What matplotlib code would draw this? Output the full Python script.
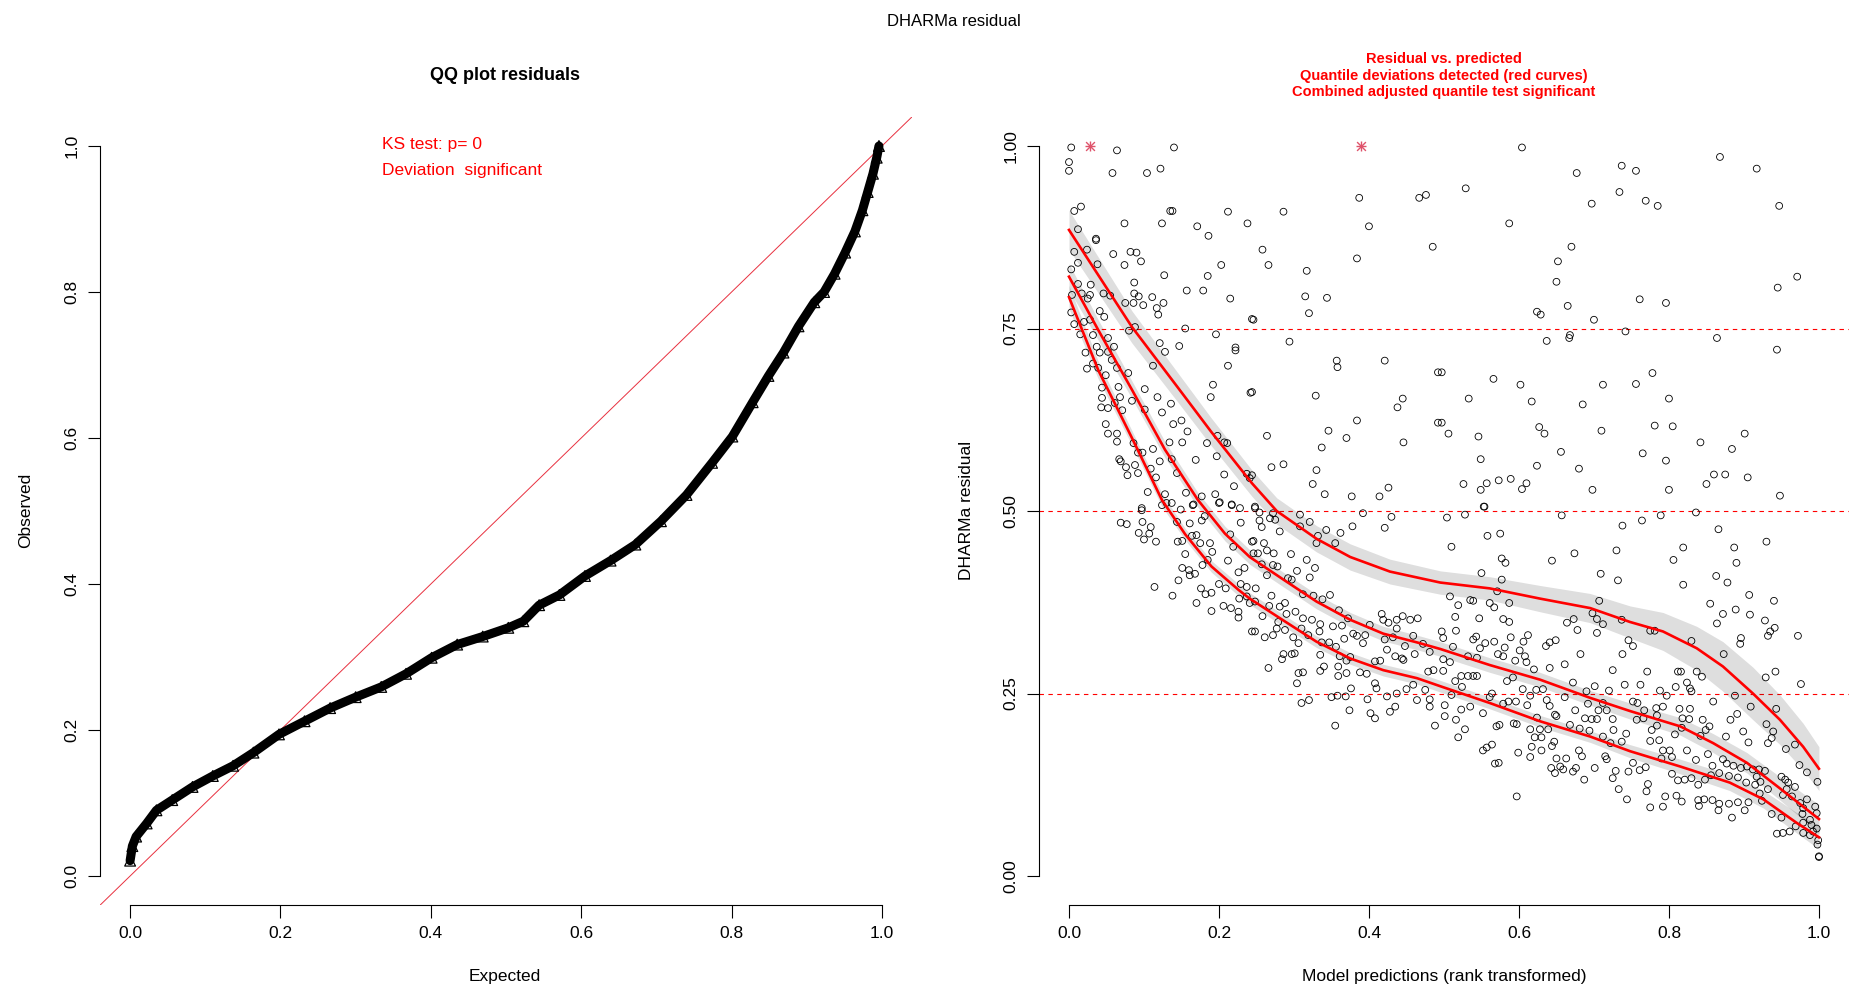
import matplotlib.pyplot as plt
import numpy as np

plt.rcParams['font.family'] = ['Liberation Sans', 'DejaVu Sans']

# QQ plot: expected vs observed quantiles
qq_expected = [0.0, 0.003, 0.008, 0.022, 0.035, 0.056, 0.083, 0.11, 0.137, 0.164, 0.198,
               0.232, 0.266, 0.30, 0.334, 0.367, 0.401, 0.435, 0.469, 0.503, 0.523, 0.544,
               0.571, 0.605, 0.639, 0.672, 0.706, 0.740, 0.774, 0.801, 0.828, 0.849, 0.869,
               0.889, 0.910, 0.923, 0.937, 0.951, 0.964, 0.974, 0.981, 0.988, 0.993, 0.996]
qq_observed = [0.021, 0.041, 0.054, 0.072, 0.090, 0.104, 0.122, 0.137, 0.151, 0.169, 0.194,
               0.212, 0.230, 0.245, 0.259, 0.277, 0.299, 0.317, 0.328, 0.340, 0.349, 0.371,
               0.385, 0.411, 0.432, 0.454, 0.486, 0.522, 0.566, 0.602, 0.649, 0.685, 0.717,
               0.753, 0.786, 0.800, 0.825, 0.854, 0.883, 0.912, 0.937, 0.962, 0.984, 1.0]

# residual vs predicted (rank transformed), (x, y) pairs
resid_points = [
    (0.003,0.998),(0.064,0.994),(0.140,0.998),(0.0,0.978),(0.0,0.966),(0.058,0.963),(0.104,0.963),
    (0.122,0.969),(0.007,0.911),(0.016,0.917),(0.135,0.911),(0.138,0.911),(0.212,0.910),(0.238,0.894),
    (0.074,0.894),(0.124,0.894),(0.171,0.890),(0.186,0.877),(0.012,0.886),(0.036,0.873),(0.036,0.871),
    (0.007,0.855),(0.024,0.858),(0.059,0.852),(0.082,0.855),(0.090,0.854),(0.096,0.842),(0.074,0.837),
    (0.038,0.838),(0.003,0.831),(0.012,0.840),(0.203,0.837),(0.127,0.823),(0.185,0.822),(0.087,0.813),
    (0.012,0.811),(0.029,0.810),(0.157,0.802),(0.179,0.802),(0.004,0.796),(0.017,0.798),(0.028,0.796),
    (0.046,0.798),(0.055,0.795),(0.087,0.798),(0.093,0.794),(0.111,0.793),(0.215,0.791),(0.025,0.791),
    (0.075,0.785),(0.086,0.785),(0.099,0.782),(0.126,0.785),(0.117,0.778),(0.041,0.774),(0.003,0.772),
    (0.047,0.766),(0.119,0.769),(0.244,0.763),(0.007,0.756),(0.020,0.759),(0.028,0.762),(0.080,0.747),
    (0.088,0.752),(0.155,0.750),(0.196,0.742),(0.015,0.742),(0.032,0.741),(0.052,0.737),(0.121,0.730),
    (0.128,0.718),(0.060,0.725),(0.147,0.726),(0.222,0.724),(0.222,0.720),(0.037,0.725),(0.022,0.717),
    (0.041,0.717),(0.052,0.718),(0.032,0.702),(0.057,0.707),(0.064,0.696),(0.024,0.695),(0.039,0.696),
    (0.049,0.686),(0.079,0.689),(0.112,0.699),(0.212,0.699),(0.044,0.669),(0.101,0.667),(0.066,0.670),
    (0.118,0.656),(0.068,0.656),(0.044,0.655),(0.084,0.651),(0.192,0.673),(0.189,0.656),(0.242,0.662),
    (0.043,0.642),(0.052,0.641),(0.061,0.648),(0.101,0.639),(0.071,0.638),(0.124,0.635),(0.136,0.647),
    (0.049,0.619),(0.139,0.619),(0.150,0.624),(0.158,0.609),(0.052,0.606),(0.064,0.606),(0.064,0.595),
    (0.086,0.593),(0.134,0.594),(0.151,0.594),(0.184,0.593),(0.198,0.603),(0.207,0.594),(0.211,0.593),
    (0.112,0.585),(0.092,0.580),(0.098,0.580),(0.197,0.575),(0.169,0.570),(0.067,0.571),(0.069,0.568),
    (0.121,0.568),(0.137,0.571),(0.076,0.560),(0.088,0.563),(0.078,0.549),(0.092,0.552),(0.109,0.558),
    (0.116,0.546),(0.144,0.552),(0.207,0.550),(0.220,0.534),(0.237,0.551),(0.241,0.545),(0.195,0.523),
    (0.177,0.520),(0.156,0.525),(0.128,0.523),(0.105,0.526),(0.097,0.504),(0.137,0.511),(0.166,0.509),
    (0.201,0.512),(0.217,0.509),
    (0.097,0.501),(0.069,0.484),(0.077,0.482),(0.098,0.485),(0.109,0.478),(0.093,0.470),(0.107,0.469),
    (0.100,0.461),(0.116,0.458),(0.114,0.396),(0.138,0.384),(0.124,0.508),(0.130,0.511),(0.144,0.485),
    (0.149,0.502),(0.161,0.483),(0.165,0.508),(0.170,0.467),(0.164,0.466),(0.151,0.459),(0.145,0.458),
    (0.155,0.441),(0.175,0.456),(0.177,0.487),(0.181,0.493),(0.188,0.456),(0.191,0.444),(0.200,0.511),
    (0.217,0.508),(0.228,0.504),(0.229,0.484),(0.215,0.468),(0.219,0.451),(0.151,0.422),(0.160,0.419),
    (0.161,0.412),(0.168,0.414),(0.146,0.405),(0.178,0.426),(0.185,0.433),(0.212,0.432),(0.176,0.394),
    (0.182,0.386),(0.190,0.388),(0.200,0.400),(0.209,0.394),(0.170,0.374),(0.190,0.363),(0.206,0.370),
    (0.216,0.367),(0.226,0.362),(0.226,0.354),(0.226,0.416),(0.234,0.422),(0.229,0.400),(0.237,0.396),
    (0.227,0.380),(0.237,0.383),(0.241,0.374),(0.244,0.458),(0.244,0.335),
    (0.248,0.504),(0.254,0.498),(0.272,0.497),(0.268,0.490),(0.254,0.487),(0.275,0.488),(0.257,0.478),
    (0.281,0.472),(0.308,0.495),(0.308,0.479),(0.321,0.485),(0.392,0.497),(0.430,0.492),(0.378,0.479),
    (0.421,0.477),(0.343,0.474),(0.362,0.470),(0.332,0.466),(0.330,0.456),(0.355,0.456),(0.246,0.459),
    (0.260,0.456),(0.246,0.442),(0.252,0.442),(0.264,0.446),(0.273,0.442),(0.296,0.441),(0.257,0.427),
    (0.272,0.426),(0.278,0.424),(0.264,0.412),(0.317,0.433),(0.328,0.422),(0.304,0.418),(0.292,0.408),
    (0.297,0.406),(0.321,0.409),(0.249,0.394),(0.270,0.384),(0.267,0.370),(0.248,0.376),(0.281,0.369),
    (0.288,0.374),(0.290,0.359),(0.302,0.362),(0.312,0.386),(0.326,0.384),(0.338,0.379),(0.348,0.385),
    (0.360,0.364),(0.258,0.356),(0.279,0.348),(0.277,0.339),(0.288,0.337),(0.248,0.335),(0.261,0.327),
    (0.272,0.330),(0.299,0.327),(0.306,0.319),(0.312,0.353),(0.324,0.351),(0.310,0.339),(0.319,0.330),
    (0.335,0.345),(0.352,0.342),(0.364,0.343),(0.372,0.353),(0.334,0.335),(0.337,0.320),(0.347,0.320),
    (0.356,0.314),(0.367,0.325),(0.379,0.332),(0.384,0.329),(0.395,0.330),(0.392,0.319),(0.401,0.344),
    (0.417,0.359),(0.419,0.351),(0.426,0.347),(0.437,0.351),(0.445,0.356),(0.455,0.351),(0.465,0.353),
    (0.437,0.339),(0.421,0.324),(0.432,0.327),(0.448,0.315),(0.446,0.296),(0.461,0.304),(0.459,0.329),
    (0.424,0.310),(0.435,0.301),(0.444,0.298),(0.472,0.318),(0.481,0.307),(0.486,0.282),(0.479,0.280),
    (0.361,0.301),(0.370,0.295),(0.375,0.300),(0.335,0.303),(0.340,0.287),(0.335,0.281),(0.359,0.287),
    (0.359,0.274),(0.370,0.278),(0.388,0.279),(0.397,0.277),(0.408,0.294),(0.415,0.295),(0.408,0.264),
    (0.410,0.257),(0.424,0.246),(0.437,0.250),(0.450,0.256),(0.459,0.262),(0.464,0.241),(0.475,0.255),
    (0.481,0.232),(0.286,0.304),(0.297,0.304),(0.301,0.305),(0.284,0.297),(0.266,0.285),(0.306,0.278),
    (0.312,0.279),(0.304,0.264),(0.310,0.237),(0.320,0.241),(0.350,0.245),(0.358,0.247),(0.369,0.246),
    (0.376,0.257),(0.374,0.227),(0.398,0.242),(0.402,0.223),(0.408,0.216),(0.428,0.225),(0.435,0.232),
    (0.355,0.206),(0.488,0.206),(0.481,0.242),
    (0.553,0.506),(0.528,0.495),(0.504,0.491),(0.657,0.494),(0.738,0.480),(0.558,0.466),(0.575,0.469),
    (0.510,0.451),(0.730,0.446),(0.674,0.442),(0.577,0.435),(0.582,0.429),(0.644,0.432),(0.550,0.415),
    (0.709,0.414),(0.577,0.406),(0.732,0.405),(0.571,0.390),(0.508,0.383),(0.535,0.378),(0.539,0.377),
    (0.519,0.371),(0.561,0.374),(0.567,0.368),(0.587,0.374),(0.707,0.377),(0.515,0.355),(0.547,0.353),
    (0.579,0.352),(0.587,0.348),(0.664,0.347),(0.673,0.352),(0.678,0.337),(0.698,0.360),(0.704,0.352),
    (0.712,0.345),(0.704,0.333),(0.737,0.351),(0.516,0.336),(0.497,0.335),(0.499,0.326),(0.539,0.324),
    (0.543,0.328),(0.548,0.312),(0.555,0.319),(0.567,0.321),(0.581,0.313),(0.589,0.327),(0.601,0.309),
    (0.606,0.321),(0.612,0.330),(0.636,0.315),(0.641,0.320),(0.649,0.323),(0.512,0.314),(0.499,0.297),
    (0.508,0.293),(0.532,0.301),(0.544,0.299),(0.572,0.304),(0.579,0.301),(0.595,0.295),(0.608,0.301),
    (0.610,0.293),(0.620,0.283),(0.641,0.285),(0.661,0.290),(0.682,0.304),(0.725,0.282),(0.738,0.304),
    (0.741,0.262),(0.499,0.281),(0.515,0.267),(0.523,0.274),(0.532,0.274),(0.539,0.274),(0.544,0.274),
    (0.524,0.259),(0.510,0.248),(0.561,0.245),(0.564,0.250),(0.584,0.267),(0.592,0.272),(0.605,0.256),
    (0.615,0.247),(0.623,0.255),(0.632,0.256),(0.661,0.245),(0.672,0.265),(0.690,0.253),(0.701,0.260),
    (0.720,0.254),(0.501,0.234),(0.535,0.232),(0.552,0.223),(0.579,0.236),(0.586,0.239),(0.596,0.239),
    (0.611,0.234),(0.637,0.241),(0.641,0.233),(0.648,0.221),(0.650,0.219),(0.675,0.227),(0.692,0.236),
    (0.706,0.227),(0.712,0.237),(0.717,0.227),(0.501,0.219),(0.516,0.214),(0.523,0.228),(0.528,0.201),
    (0.519,0.190),(0.570,0.205),(0.574,0.207),(0.593,0.209),(0.597,0.208),(0.615,0.201),(0.624,0.217),
    (0.628,0.201),(0.639,0.201),(0.621,0.190),(0.630,0.190),(0.647,0.184),(0.668,0.207),(0.681,0.202),
    (0.694,0.199),(0.688,0.216),(0.697,0.215),(0.704,0.215),(0.725,0.215),(0.726,0.200),(0.712,0.191),
    (0.722,0.182),(0.737,0.184),(0.743,0.195),(0.552,0.172),(0.557,0.176),(0.564,0.180),(0.599,0.169),
    (0.615,0.163),(0.617,0.177),(0.630,0.172),(0.644,0.178),(0.650,0.161),(0.663,0.161),(0.680,0.172),
    (0.684,0.164),(0.715,0.164),(0.717,0.160),(0.568,0.154),(0.573,0.155),(0.643,0.148),(0.648,0.141),
    (0.655,0.150),(0.659,0.146),(0.672,0.143),(0.676,0.148),(0.687,0.132),(0.701,0.148),(0.725,0.134),
    (0.729,0.144),(0.733,0.119),(0.746,0.143),(0.744,0.105),(0.597,0.109),(0.746,0.323),
    (0.764,0.487),(0.789,0.494),(0.836,0.498),(0.866,0.475),(0.930,0.458),(0.819,0.450),(0.887,0.450),
    (0.806,0.433),(0.890,0.429),(0.863,0.411),(0.878,0.402),(0.819,0.399),(0.907,0.385),(0.940,0.377),
    (0.855,0.373),(0.889,0.365),(0.872,0.359),(0.908,0.358),(0.928,0.350),(0.864,0.346),(0.941,0.340),
    (0.935,0.335),(0.932,0.329),(0.972,0.329),(0.775,0.336),(0.781,0.336),(0.752,0.315),(0.830,0.322),
    (0.895,0.318),(0.896,0.326),(0.873,0.304),(0.771,0.280),(0.812,0.280),(0.816,0.280),(0.837,0.280),
    (0.844,0.273),(0.942,0.280),(0.929,0.272),(0.976,0.263),(0.762,0.262),(0.824,0.265),(0.828,0.257),
    (0.830,0.253),(0.788,0.254),(0.797,0.247),(0.809,0.259),(0.888,0.247),(0.859,0.239),(0.909,0.232),
    (0.943,0.229),(0.752,0.239),(0.758,0.237),(0.767,0.227),(0.783,0.230),(0.792,0.232),(0.814,0.229),
    (0.828,0.229),(0.757,0.214),(0.766,0.216),(0.784,0.220),(0.818,0.216),(0.827,0.215),(0.845,0.214),
    (0.882,0.214),(0.891,0.222),(0.777,0.200),(0.784,0.206),(0.817,0.203),(0.842,0.192),(0.849,0.200),
    (0.854,0.205),(0.876,0.191),(0.899,0.198),(0.930,0.208),(0.939,0.198),(0.937,0.189),(0.775,0.185),
    (0.787,0.186),(0.808,0.194),(0.906,0.183),(0.932,0.182),(0.968,0.180),(0.956,0.174),(0.974,0.152),
    (0.984,0.142),(0.998,0.129),(0.752,0.155),(0.761,0.145),(0.769,0.149),(0.792,0.172),(0.801,0.172),
    (0.790,0.161),(0.804,0.163),(0.824,0.172),(0.836,0.159),(0.852,0.167),(0.858,0.151),(0.872,0.160),
    (0.877,0.154),(0.886,0.151),(0.896,0.148),(0.904,0.150),(0.912,0.146),(0.920,0.146),(0.928,0.144),
    (0.804,0.140),(0.812,0.131),(0.821,0.132),(0.830,0.134),(0.839,0.125),(0.848,0.132),(0.856,0.138),
    (0.867,0.141),(0.880,0.137),(0.892,0.135),(0.903,0.128),(0.915,0.125),(0.922,0.129),(0.955,0.132),
    (0.959,0.128),(0.957,0.119),(0.772,0.126),(0.770,0.116),(0.795,0.109),(0.810,0.110),(0.817,0.102),
    (0.839,0.104),(0.847,0.105),(0.858,0.104),(0.867,0.099),(0.880,0.099),(0.892,0.101),(0.901,0.090),
    (0.906,0.101),(0.924,0.103),(0.775,0.094),(0.792,0.095),(0.840,0.096),(0.866,0.090),(0.884,0.080),
    (0.937,0.085),(0.950,0.080),(0.944,0.058),(0.952,0.059),(0.961,0.061),(0.969,0.068),(0.979,0.073),
    (0.978,0.085),(0.979,0.093),(0.988,0.077),(0.990,0.070),(0.992,0.061),(0.997,0.065),(0.999,0.049),
    (0.998,0.043),(0.988,0.056),(0.979,0.059),(1.0,0.027),(1.0,0.026),(0.964,0.109),(0.975,0.100),
    (0.968,0.122),(0.984,0.105),(0.995,0.095),(0.997,0.086),(0.917,0.136),(0.921,0.113),(0.952,0.111),
    (0.932,0.119),(0.950,0.136),
    (0.387,0.929),(0.467,0.929),(0.476,0.933),(0.286,0.910),(0.400,0.890),(0.485,0.862),(0.258,0.858),
    (0.266,0.837),(0.317,0.829),(0.384,0.846),(0.315,0.794),(0.344,0.792),(0.320,0.771),(0.246,0.762),
    (0.294,0.732),(0.357,0.706),(0.358,0.697),(0.421,0.706),(0.492,0.690),(0.244,0.663),(0.329,0.658),
    (0.445,0.654),(0.438,0.642),(0.492,0.621),(0.384,0.624),(0.346,0.610),(0.370,0.600),(0.264,0.603),
    (0.446,0.594),(0.337,0.587),(0.270,0.560),(0.286,0.564),(0.330,0.556),(0.325,0.537),(0.341,0.523),
    (0.377,0.520),(0.414,0.520),(0.426,0.532),(0.244,0.549),(0.248,0.506),
    (0.604,0.998),(0.737,0.973),(0.677,0.963),(0.529,0.942),(0.734,0.937),(0.697,0.921),(0.587,0.894),
    (0.670,0.862),(0.652,0.842),(0.650,0.814),(0.665,0.781),(0.624,0.773),(0.629,0.769),(0.700,0.762),
    (0.742,0.746),(0.637,0.733),(0.668,0.741),(0.667,0.737),(0.497,0.690),(0.566,0.681),(0.602,0.673),
    (0.712,0.673),(0.533,0.654),(0.617,0.650),(0.685,0.646),(0.497,0.621),(0.506,0.606),(0.546,0.602),
    (0.627,0.615),(0.634,0.606),(0.710,0.610),(0.656,0.581),(0.549,0.571),(0.624,0.562),(0.680,0.558),
    (0.526,0.537),(0.549,0.529),(0.557,0.538),(0.573,0.542),(0.589,0.544),(0.604,0.530),(0.610,0.538),
    (0.698,0.529),(0.554,0.506),
    (0.868,0.985),(0.756,0.966),(0.917,0.969),(0.769,0.925),(0.785,0.918),(0.947,0.918),(0.971,0.821),
    (0.945,0.806),(0.761,0.790),(0.796,0.785),(0.864,0.737),(0.944,0.721),(0.778,0.689),(0.756,0.674),
    (0.800,0.654),(0.781,0.617),(0.805,0.616),(0.901,0.606),(0.842,0.594),(0.884,0.585),(0.765,0.579),
    (0.796,0.569),(0.860,0.550),(0.875,0.550),(0.905,0.546),(0.850,0.537),(0.800,0.529),(0.948,0.521),
]

# outliers (drawn as asterisks at the top)
outlier_x = [0.028, 0.389]
outlier_y = [1.0, 1.0]

# quantile regression curves + half width of their bands
q75_x = [0.0, 0.084, 0.146, 0.19, 0.244, 0.277, 0.33, 0.375, 0.428, 0.495, 0.561,
         0.628, 0.695, 0.748, 0.792, 0.837, 0.872, 0.912, 0.948, 0.979, 1.0]
q75_y = [0.885, 0.752, 0.668, 0.608, 0.538, 0.500, 0.462, 0.437, 0.417, 0.402, 0.394,
         0.380, 0.367, 0.348, 0.335, 0.312, 0.287, 0.250, 0.214, 0.177, 0.147]
q75_se = [0.027, 0.022, 0.020, 0.019, 0.018, 0.018, 0.018, 0.018, 0.017, 0.016, 0.016,
          0.018, 0.020, 0.022, 0.026, 0.030, 0.034, 0.036, 0.034, 0.032, 0.030]

q50_x = [0.0, 0.039, 0.084, 0.128, 0.172, 0.208, 0.241, 0.286, 0.33, 0.375, 0.419, 0.464,
         0.495, 0.561, 0.628, 0.695, 0.748, 0.815, 0.859, 0.904, 0.948, 0.979, 1.0]
q50_y = [0.821, 0.748, 0.666, 0.584, 0.515, 0.469, 0.437, 0.406, 0.376, 0.351, 0.332, 0.320,
         0.311, 0.289, 0.269, 0.244, 0.226, 0.205, 0.182, 0.155, 0.120, 0.095, 0.078]
q50_se = [0.018, 0.014, 0.012, 0.011, 0.010, 0.010, 0.010, 0.010, 0.010, 0.010, 0.010, 0.010,
          0.010, 0.010, 0.010, 0.010, 0.011, 0.012, 0.013, 0.014, 0.016, 0.018, 0.020]

q25_x = [0.0, 0.039, 0.084, 0.124, 0.155, 0.19, 0.226, 0.241, 0.286, 0.33, 0.375, 0.419,
         0.464, 0.495, 0.561, 0.628, 0.695, 0.748, 0.815, 0.881, 0.926, 0.97, 1.0]
q25_y = [0.793, 0.693, 0.600, 0.515, 0.468, 0.424, 0.392, 0.380, 0.350, 0.321, 0.298, 0.282,
         0.271, 0.260, 0.237, 0.212, 0.191, 0.171, 0.150, 0.128, 0.105, 0.073, 0.053]
q25_se = [0.016, 0.012, 0.010, 0.009, 0.008, 0.008, 0.008, 0.008, 0.008, 0.008, 0.008, 0.008,
          0.008, 0.008, 0.008, 0.008, 0.008, 0.009, 0.010, 0.011, 0.012, 0.014, 0.016]

fig = plt.figure(figsize=(18.56, 10), dpi=100)
ax1 = fig.add_axes([0.0539, 0.0948, 0.4375, 0.7884])
ax2 = fig.add_axes([0.5598, 0.0948, 0.4364, 0.7884])


def r_style(ax, yticks, ylabels):
    # base R look: no box, axis lines only between first and last tick
    ax.set_xlim(-0.04, 1.04)
    ax.set_ylim(-0.04, 1.04)
    ax.spines['top'].set_visible(False)
    ax.spines['right'].set_visible(False)
    ax.spines['bottom'].set_bounds(0, 1)
    ax.spines['left'].set_bounds(0, 1)
    for s in ['bottom', 'left']:
        ax.spines[s].set_linewidth(0.8)
    xt = [0, 0.2, 0.4, 0.6, 0.8, 1.0]
    ax.set_xticks(xt, ['%.1f' % v for v in xt])
    ax.set_yticks(yticks, ylabels)
    ax.tick_params(length=9, width=0.8, labelsize=12.5, pad=6)
    for lbl in ax.get_yticklabels():
        lbl.set_rotation(90)
        lbl.set_va('center')


r_style(ax1, [0, 0.2, 0.4, 0.6, 0.8, 1.0], ['0.0', '0.2', '0.4', '0.6', '0.8', '1.0'])
r_style(ax2, [0, 0.25, 0.5, 0.75, 1.0], ['0.00', '0.25', '0.50', '0.75', '1.00'])

# QQ panel: the dense triangles form a thick black band
ax1.axline((0, 0), (1, 1), color='#E8303F', lw=0.7, zorder=1)
ax1.plot(qq_expected, qq_observed, color='black', lw=6.5, solid_capstyle='round', zorder=2)
ax1.scatter(qq_expected, qq_observed, marker='^', s=60, facecolors='none',
            edgecolors='black', linewidths=0.9, zorder=3)

# residual panel
px = [p[0] for p in resid_points]
py = [p[1] for p in resid_points]
ax2.scatter(px, py, s=24, facecolors='none', edgecolors='black', linewidths=0.6, zorder=2)
for yq in [0.25, 0.5, 0.75]:
    ax2.axhline(yq, color='red', lw=0.8, linestyle=(0, (4, 4)), zorder=1)

for cx, cy, se in [(q75_x, q75_y, q75_se), (q50_x, q50_y, q50_se), (q25_x, q25_y, q25_se)]:
    cx = np.array(cx)
    cy = np.array(cy)
    se = np.array(se)
    ax2.fill_between(cx, cy - se, cy + se, color='black', alpha=0.13, lw=0, zorder=3)
    ax2.plot(cx, cy, color='red', lw=1.9, zorder=4)

ax2.scatter(outlier_x, outlier_y, marker='+', s=60, color='#DF536B', linewidths=1, zorder=5)
ax2.scatter(outlier_x, outlier_y, marker='x', s=40, color='#DF536B', linewidths=1, zorder=5)

# texts
W, H = 1856.0, 1000.0
fig.text(954 / W, 1 - 21 / H, 'DHARMa residual', ha='center', va='center', fontsize=12)
fig.text(505 / W, 1 - 75 / H, 'QQ plot residuals', ha='center', va='center',
         fontsize=13, fontweight='bold')
fig.text(382 / W, 1 - 144 / H, 'KS test: p= 0', ha='left', va='center', fontsize=12.5, color='red')
fig.text(382 / W, 1 - 170 / H, 'Deviation  significant', ha='left', va='center',
         fontsize=12.5, color='red')
for yy, txt in [(59, 'Residual vs. predicted'),
                (76, 'Quantile deviations detected (red curves)'),
                (92, 'Combined adjusted quantile test significant')]:
    fig.text(1444 / W, 1 - yy / H, txt, ha='center', va='center', fontsize=10.5,
             fontweight='bold', color='red')

fig.text(505 / W, 1 - 977 / H, 'Expected', ha='center', va='center', fontsize=12.5)
fig.text(26 / W, 1 - 510 / H, 'Observed', ha='center', va='center', fontsize=12.5, rotation=90)
fig.text(1444 / W, 1 - 977 / H, 'Model predictions (rank transformed)', ha='center',
         va='center', fontsize=12.5)
fig.text(967 / W, 1 - 510 / H, 'DHARMa residual', ha='center', va='center', fontsize=12.5,
         rotation=90)

fig.savefig('out.png', dpi=100)
